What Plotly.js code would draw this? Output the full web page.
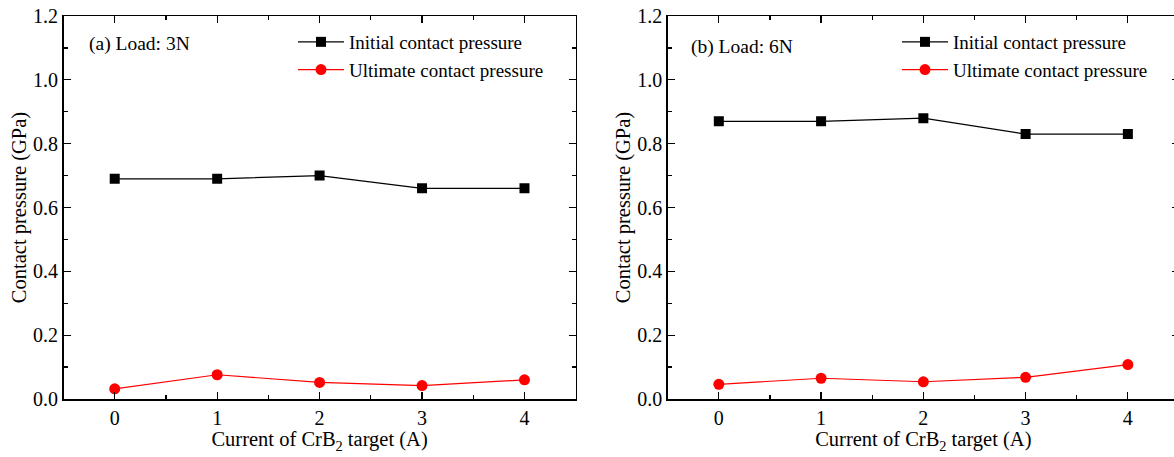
<!DOCTYPE html>
<html>
<head>
<meta charset="utf-8">
<script src="https://cdn.plot.ly/plotly-3.0.1.min.js"></script>
<style>
  html, body { margin: 0; padding: 0; overflow: hidden; background: #fff; }
  #chart { width: 1190px; height: 457px; }
</style>
</head>
<body>
<div id="chart"></div>
<script>
// ---- Data ----
const currents = [0, 1, 2, 3, 4];
const xTickLabels = ['0', '1', '2', '3', '4'];
const seriesNames = ['Initial contact pressure', 'Ultimate contact pressure'];
const panelLabels = ['(a) Load: 3N', '(b) Load: 6N'];
// Load 3N
const initial3N = [0.69, 0.69, 0.70, 0.66, 0.66];
const ultimate3N = [0.032, 0.076, 0.052, 0.042, 0.060];
// Load 6N
const initial6N = [0.87, 0.87, 0.88, 0.83, 0.83];
const ultimate6N = [0.046, 0.065, 0.054, 0.068, 0.108];

const W = 1190, H = 457;
const FONT = "'Liberation Serif', 'Times New Roman', serif";

function blackTrace(x, y, xa, ya, legend, show) {
  return { x, y, xaxis: xa, yaxis: ya, type: 'scatter', mode: 'lines+markers',
    name: seriesNames[0], legend, showlegend: show,
    line: { color: '#000', width: 1.2 },
    marker: { symbol: 'square', size: 10, color: '#000' } };
}
function redTrace(x, y, xa, ya, legend, show) {
  return { x, y, xaxis: xa, yaxis: ya, type: 'scatter', mode: 'lines+markers',
    name: seriesNames[1], legend, showlegend: show,
    line: { color: '#ff0000', width: 1.2 },
    marker: { symbol: 'circle', size: 11, color: '#ff0000' } };
}

const data = [
  blackTrace(currents, initial3N, 'x', 'y', 'legend', true),
  redTrace(currents, ultimate3N, 'x', 'y', 'legend', true),
  blackTrace(currents, initial6N, 'x2', 'y2', 'legend2', true),
  redTrace(currents, ultimate6N, 'x2', 'y2', 'legend2', true)
];

function xAxis(domain, anchor) {
  return {
    domain, anchor, range: [-0.5, 4.5],
    tickmode: 'array', tickvals: currents, ticktext: xTickLabels,
    ticks: 'inside', ticklen: 7, tickwidth: 1.2, tickcolor: '#000',
    minor: { dtick: 0.5, tick0: 0, ticks: 'inside', ticklen: 4, tickcolor: '#000', tickwidth: 1.2 },
    showline: true, linecolor: '#000', linewidth: 1.5, mirror: 'allticks',
    showgrid: false, zeroline: false, automargin: false,
    tickfont: { family: FONT, size: 20, color: '#000' },
    title: { text: 'Current of CrB<sub>2</sub> target (A)', font: { family: FONT, size: 20.5, color: '#000' }, standoff: 1 }
  };
}
function yAxis(domain, anchor) {
  return {
    domain, anchor, range: [0, 1.2],
    tickmode: 'linear', tick0: 0, dtick: 0.2, tickformat: '.1f',
    ticks: 'inside', ticklen: 7, tickwidth: 1.2, tickcolor: '#000',
    minor: { dtick: 0.1, ticks: 'inside', ticklen: 4, tickcolor: '#000', tickwidth: 1.2 },
    showline: true, linecolor: '#000', linewidth: 1.5, mirror: 'allticks',
    showgrid: false, zeroline: false, automargin: false,
    tickfont: { family: FONT, size: 20, color: '#000' },
    title: { text: 'Contact pressure (GPa)', font: { family: FONT, size: 20.5, color: '#000' }, standoff: 1 }
  };
}

const legendCommon = {
  font: { family: FONT, size: 19, color: '#000' },
  bgcolor: 'rgba(0,0,0,0)', borderwidth: 0,
  xref: 'paper', yref: 'paper', xanchor: 'left', yanchor: 'top',
  itemwidth: 46, tracegroupgap: 0, traceorder: 'normal'
};

const layout = {
  width: W, height: H,
  margin: { l: 0, r: 0, t: 16, b: 58 },
  paper_bgcolor: '#fff', plot_bgcolor: '#fff',
  font: { family: FONT, size: 19, color: '#000' },
  xaxis: xAxis([63.5 / W, 575.7 / W], 'y'),
  yaxis: yAxis([0, 1], 'x'),
  xaxis2: xAxis([667.7 / W, 1179 / W], 'y2'),
  yaxis2: yAxis([0, 1], 'x2'),
  legend: Object.assign({}, legendCommon, { x: 293 / W, y: (383 - 7) / 383 }),
  legend2: Object.assign({}, legendCommon, { x: 897 / W, y: (383 - 7) / 383 }),
  annotations: [
    { text: panelLabels[0], xref: 'paper', yref: 'paper', x: 87 / W, y: (383 - 28) / 383,
      xanchor: 'left', yanchor: 'middle', showarrow: false, font: { family: FONT, size: 19.5, color: '#000' } },
    { text: panelLabels[1], xref: 'paper', yref: 'paper', x: 689 / W, y: (383 - 31) / 383,
      xanchor: 'left', yanchor: 'middle', showarrow: false, font: { family: FONT, size: 19.5, color: '#000' } }
  ],
  showlegend: true
};

Plotly.newPlot('chart', data, layout, { displayModeBar: false, staticPlot: true });
</script>
</body>
</html>
